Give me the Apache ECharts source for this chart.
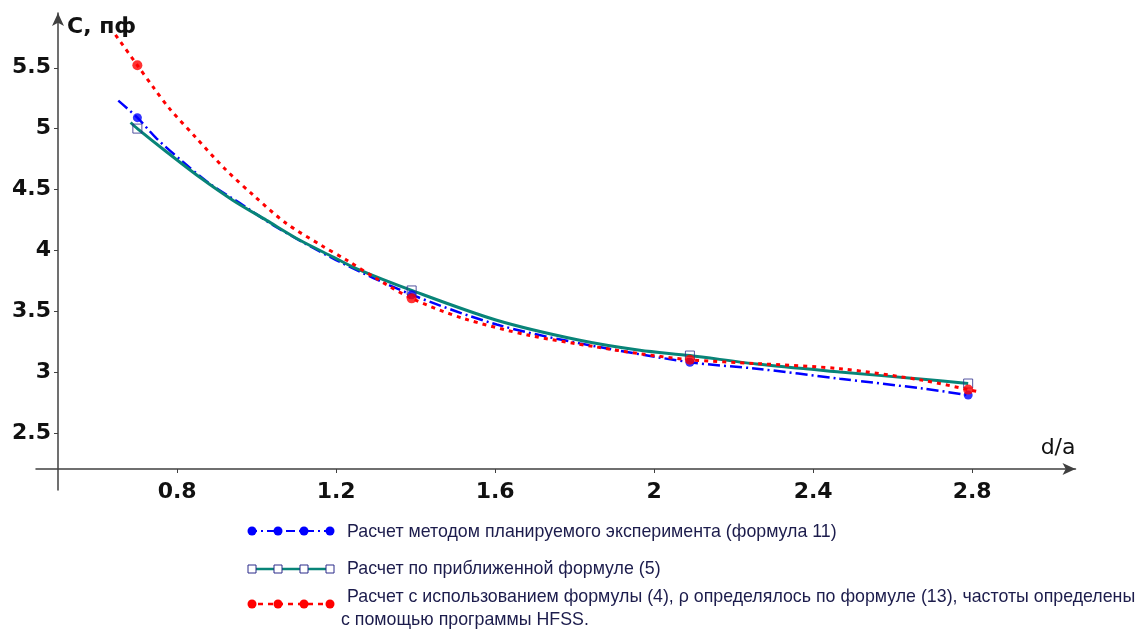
<!DOCTYPE html>
<html>
<head>
<meta charset="utf-8">
<script src="https://cdn.jsdelivr.net/npm/echarts@6/dist/echarts.min.js"></script>
<style>
html,body{margin:0;padding:0;background:#fff;}
#chart{width:1147px;height:632px;}
</style>
</head>
<body>
<div id="chart"></div>
<script>
// tick labels
var xTicks = [0.8, 1.2, 1.6, 2, 2.4, 2.8];
var yTicks = [2.5, 3, 3.5, 4, 4.5, 5, 5.5];

// marker positions (d/a) and values, C in pF
var markX = [0.7, 1.39, 2.09, 2.79];
var blueMarks = [5.09, 3.635, 3.08, 2.81];
var tealMarks = [5.0, 3.67, 3.135, 2.905];
var redMarks = [5.52, 3.605, 3.10, 2.855];

// curves
var blueCurve = [[0.652,5.23],[0.7,5.09],[0.748,4.92],[0.815,4.725],[0.882,4.547],[0.966,4.37],[1.05,4.19],[1.2,3.92],[1.39,3.635],[1.604,3.39],[1.813,3.235],[2.09,3.08],[2.258,3.027],[2.467,2.945],[2.677,2.863],[2.79,2.81]];
var tealCurve = [[0.683,5.05],[0.7,5.0],[0.773,4.81],[0.857,4.60],[0.941,4.41],[1.025,4.246],[1.109,4.082],[1.193,3.944],[1.251,3.849],[1.39,3.67],[1.604,3.425],[1.813,3.26],[1.964,3.178],[2.09,3.135],[2.258,3.065],[2.467,3.0],[2.677,2.94],[2.79,2.905]];
var redCurve = [[0.645,5.77],[0.7,5.52],[0.74,5.34],[0.782,5.16],[0.849,4.92],[0.92,4.67],[0.996,4.44],[1.075,4.22],[1.163,4.04],[1.226,3.92],[1.3,3.77],[1.39,3.605],[1.52,3.44],[1.687,3.30],[1.855,3.205],[1.964,3.15],[2.09,3.10],[2.258,3.069],[2.467,3.027],[2.677,2.931],[2.79,2.855],[2.82,2.835]];

var legendNames = [
	'Расчет методом планируемого эксперимента (формула 11)',
	'Расчет по приближенной формуле (5)',
	'Расчет с использованием формулы (4), ρ определялось по формуле (13), частоты определены',
	'с помощью программы HFSS.'
];

var blue = '#0000ff', teal = '#088478', red = '#ff0000', navy = '#2a2a8a';
var axisColor = '#404040';
var textColor = '#1c1c4c';

function pairs(xs, ys) {
	var out = [];
	for (var i = 0; i < xs.length; i++) out.push([xs[i], ys[i]]);
	return out;
}

// legend drawn by hand: line + four markers + text
function legendRow(y, lineStyle, marker) {
	var els = [{
		type: 'line',
		shape: {x1: 248, y1: y, x2: 332, y2: y},
		style: lineStyle
	}];
	[252, 278, 304, 330].forEach(function (x) {
		if (marker === 'rect') {
			els.push({type: 'rect', shape: {x: x - 4, y: y - 4, width: 8, height: 8},
				style: {fill: '#fff', stroke: navy, lineWidth: 1}});
		} else {
			els.push({type: 'circle', shape: {cx: x, cy: y, r: 4.5}, style: {fill: marker}});
		}
	});
	return els;
}

function legendText(x, y, s) {
	return {type: 'text', x: x, y: y, style: {text: s, fill: textColor,
		font: '17.8px "Liberation Sans", Arial, sans-serif', verticalAlign: 'middle'}};
}

var graphics = []
	.concat(legendRow(531, {stroke: blue, lineWidth: 2, lineDash: [9, 4, 2, 4]}, blue))
	.concat(legendRow(569, {stroke: teal, lineWidth: 2.5}, 'rect'))
	.concat(legendRow(604, {stroke: red, lineWidth: 2.5, lineDash: [5, 5]}, red));
graphics.push(legendText(347, 532, legendNames[0]));
graphics.push(legendText(347, 569, legendNames[1]));
graphics.push(legendText(347, 597, legendNames[2]));
graphics.push(legendText(341, 620, legendNames[3]));

var myChart = echarts.init(document.getElementById('chart'));
var option = {
	animation: false,
	grid: {left: 36, top: 13, right: 71.5, bottom: 142, outerBoundsMode: 'none'},
	xAxis: {
		type: 'value',
		min: 0.445,
		max: 3.06,
		offset: -21,
		axisLine: {
			show: true, onZero: false,
			symbol: ['none', 'arrow'], symbolSize: [9, 13],
			lineStyle: {color: axisColor, width: 1.5}
		},
		axisTick: {show: true, customValues: xTicks, length: 4, lineStyle: {color: axisColor}},
		axisLabel: {
			customValues: xTicks, margin: 12,
			fontFamily: 'DejaVu Sans', fontWeight: 'bold', fontSize: 22, color: '#111'
		},
		splitLine: {show: false},
		name: 'd/a',
		nameLocation: 'end',
		nameGap: 0,
		nameTextStyle: {
			fontFamily: 'DejaVu Sans', fontSize: 22, color: '#111',
			align: 'right', verticalAlign: 'bottom', padding: [0, 0, 10, 0]
		}
	},
	yAxis: {
		type: 'value',
		min: 2.03,
		max: 5.95,
		offset: -22,
		axisLine: {
			show: true, onZero: false,
			symbol: ['none', 'arrow'], symbolSize: [9, 13],
			lineStyle: {color: axisColor, width: 1.5}
		},
		axisTick: {show: true, customValues: yTicks, length: 4, lineStyle: {color: axisColor}},
		axisLabel: {
			customValues: yTicks, margin: 7,
			fontFamily: 'DejaVu Sans', fontWeight: 'bold', fontSize: 22, color: '#111'
		},
		splitLine: {show: false},
		name: 'С, пф',
		nameLocation: 'end',
		nameGap: -14,
		nameTextStyle: {
			fontFamily: 'DejaVu Sans', fontWeight: 'bold', fontSize: 22, color: '#111',
			align: 'left', verticalAlign: 'middle', padding: [0, 0, 0, 9]
		}
	},
	series: [
		{
			type: 'line', data: blueCurve, smooth: 0.3, showSymbol: false,
			lineStyle: {color: blue, width: 2.5, type: [12, 4, 2, 4]}, z: 2
		},
		{
			type: 'line', data: tealCurve, smooth: 0.3, showSymbol: false,
			lineStyle: {color: teal, width: 3}, z: 3
		},
		{
			type: 'line', data: redCurve, smooth: 0.3, showSymbol: false,
			lineStyle: {color: red, width: 3, type: [4, 5]}, z: 4
		},
		{
			type: 'scatter', data: pairs(markX, blueMarks), symbol: 'circle', symbolSize: 9,
			itemStyle: {color: blue}, z: 5
		},
		{
			type: 'scatter', data: pairs(markX, tealMarks), symbol: 'rect', symbolSize: 9,
			itemStyle: {color: 'rgba(255,255,255,0)', borderColor: navy, borderWidth: 1}, z: 6
		},
		{
			type: 'scatter', data: pairs(markX, redMarks), symbol: 'circle', symbolSize: 10,
			itemStyle: {color: red}, z: 7
		}
	],
	graphic: graphics
};
myChart.setOption(option);
</script>
</body>
</html>
